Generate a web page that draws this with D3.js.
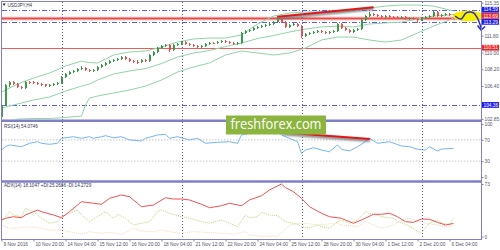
<!DOCTYPE html>
<html lang="en">
<head>
<meta charset="utf-8">
<script src="https://d3js.org/d3.v7.min.js"></script>
<style>
  body { margin: 0; background: #ffffff; }
  svg { display: block; font-family: "Liberation Sans", Arial, sans-serif; }
  .axis path { display: none; }
  .axis line { stroke: #8080c8; }
  .axis text { fill: #555566; font-size: 4.8px; }
</style>
</head>
<body>
<script>
// ---- chart data ----
var symbolLabel = "USDJPY,H4";
var rsiLabel = "RSI(14) 54.0746";
var adxLabel = "ADX(14) 18.1047 +DI:25.2686 -DI:14.2729";

var timeLabels = ["9 Nov 2016", "10 Nov 20:00", "14 Nov 04:00", "15 Nov 12:00", "16 Nov 20:00",
  "18 Nov 04:00", "21 Nov 12:00", "22 Nov 20:00", "24 Nov 04:00", "25 Nov 12:00",
  "28 Nov 20:00", "30 Nov 04:00", "1 Dec 12:00", "2 Dec 20:00", "6 Dec 04:00"];
var labelStep = 8;             // one time label every 8 H4 bars
var weekStartBars = [15, 45, 75, 105];

var priceTicks = [115.35, 111.80, 110.00, 108.20, 106.40, 102.85];
var levelValues = [114.59, 113.69, 113.29, 110.51, 104.36];
var levelKinds  = ["blue", "red", "blue", "red", "blue"];
var rsiTicks = [100, 70, 30, 0];
var rsiLevels = [70, 30];
var adxTicks = [73, 0];

// candles: [open, high, low, close]
var candles = [
  [103.10,104.50,102.95,104.35],[104.35,106.60,104.20,106.50],[106.50,106.95,106.30,106.82],[106.82,106.95,106.50,106.61],
  [106.61,106.75,106.15,106.28],[106.28,106.40,106.05,106.18],[106.18,106.95,106.10,106.82],[106.82,106.98,106.65,106.80],
  [106.80,106.90,106.60,106.71],[106.71,106.85,106.50,106.61],[106.61,106.75,106.45,106.58],[106.58,106.65,106.25,106.39],
  [106.39,106.60,106.25,106.50],[106.50,106.72,106.40,106.61],[106.61,106.80,106.50,106.71],[106.71,107.50,106.65,107.36],
  [107.36,107.80,107.25,107.68],[107.68,108.00,107.55,107.90],[107.90,108.15,107.80,108.01],[108.01,108.35,107.90,108.22],
  [108.22,108.50,108.10,108.33],[108.33,108.45,108.00,108.11],[108.11,108.20,107.85,108.01],[108.01,108.25,107.90,108.11],
  [108.11,108.55,108.00,108.44],[108.44,108.75,108.35,108.65],[108.65,108.98,108.55,108.87],[108.87,109.20,108.75,109.08],
  [109.08,109.30,108.95,109.19],[109.19,109.45,109.05,109.30],[109.30,109.65,109.20,109.51],[109.51,109.60,109.20,109.30],
  [109.30,109.40,108.95,109.08],[109.08,109.20,108.85,108.97],[108.97,109.15,108.80,108.95],[108.95,109.30,108.85,109.19],
  [109.19,109.25,108.95,109.08],[109.08,109.85,109.00,109.73],[109.73,110.15,109.60,110.05],[110.05,110.60,109.95,110.48],
  [110.48,110.85,110.35,110.69],[110.69,110.95,110.55,110.80],[110.80,110.90,110.10,110.26],[110.26,110.90,110.15,110.80],
  [110.80,111.05,110.65,110.91],[110.91,111.25,110.80,111.12],[111.12,111.20,110.80,110.91],[110.91,111.00,110.65,110.80],
  [110.80,110.90,110.55,110.69],[110.69,110.80,110.45,110.59],[110.59,110.80,110.50,110.69],[110.69,111.05,110.60,110.91],
  [110.91,111.15,110.80,111.02],[111.02,111.12,110.88,111.00],[111.00,111.25,110.90,111.12],[111.12,111.35,111.00,111.23],
  [111.23,111.30,111.00,111.12],[111.12,111.20,110.90,111.02],[111.02,111.10,110.80,110.91],[110.91,111.15,110.85,111.02],
  [111.02,112.20,110.95,112.09],[112.09,112.45,111.95,112.31],[112.31,112.55,112.20,112.41],[112.41,112.75,112.30,112.63],
  [112.63,112.85,112.50,112.74],[112.74,112.98,112.60,112.84],[112.84,113.10,112.70,112.95],[112.95,113.20,112.85,113.06],
  [113.06,113.40,112.95,113.27],[113.27,113.90,113.15,113.60],[113.60,113.75,113.15,113.27],[113.27,113.35,112.60,112.74],
  [112.74,113.10,112.65,112.95],[112.95,113.20,112.85,113.06],[113.06,113.15,112.70,112.84],[112.84,112.95,111.60,111.77],
  [111.77,112.10,111.65,111.98],[111.98,112.20,111.85,112.09],[112.09,112.35,111.95,112.20],[112.20,112.45,112.10,112.31],
  [112.31,112.40,112.05,112.20],[112.20,112.30,111.95,112.09],[112.09,112.35,111.95,112.20],[112.20,112.45,112.10,112.31],
  [112.31,113.20,112.25,113.06],[113.06,113.15,112.50,112.63],[112.63,112.75,112.30,112.41],[112.41,112.50,112.05,112.20],
  [112.20,112.55,112.10,112.41],[112.41,112.65,112.30,112.52],[112.52,113.60,112.45,113.49],[113.49,114.05,113.40,113.92],
  [113.92,114.35,113.80,114.13],[114.13,114.25,113.90,114.03],[114.03,114.15,113.80,113.92],[113.92,114.05,113.70,113.81],
  [113.81,114.05,113.70,113.92],[113.92,114.00,113.70,113.81],[113.81,113.95,113.65,113.80],[113.80,113.90,113.55,113.70],
  [113.70,113.95,113.60,113.81],[113.81,113.90,113.45,113.60],[113.60,113.85,113.50,113.70],[113.70,113.80,113.45,113.60],
  [113.60,113.70,113.20,113.49],[113.49,113.85,113.35,113.70],[113.70,113.95,113.60,113.81],[113.81,114.05,113.70,113.92],
  [113.92,114.55,113.85,114.35],[114.35,114.45,113.80,113.92],[113.92,114.15,113.85,114.03],[114.03,114.25,113.90,114.13],
  [114.13,114.20,113.90,114.03],[114.03,114.15,113.95,114.05]
];

// Bollinger bands, read at these bars
var bbBars   = [0,4,8,12,16,20,21,22,24,28,32,36,40,44,48,52,56,60,64,68,72,76,80,84,88,92,96,100,104,108,112,113];
var bbUpper  = [105.75,106.61,107.25,107.79,108.54,109.08,108.97,108.92,108.87,109.73,110.05,110.16,110.59,111.12,111.45,111.55,
                111.55,111.88,113.06,113.92,114.24,114.35,114.35,114.35,114.46,114.78,114.99,115.10,115.10,114.99,114.56,114.46];
var bbMiddle = [104.03,104.46,104.89,105.21,105.85,106.39,106.50,106.61,107.04,107.68,108.01,108.27,108.81,109.51,109.94,110.21,
                110.64,111.02,111.50,111.82,112.20,112.52,112.74,112.84,112.74,113.06,113.17,113.27,113.60,113.92,114.03,114.08];
var bbLower  = [102.20,102.84,102.90,102.90,103.01,103.17,104.35,105.10,105.32,105.64,105.96,106.39,107.04,107.90,108.44,108.87,
                109.73,110.16,109.94,109.73,109.94,110.48,111.34,111.66,111.66,111.34,111.12,111.34,112.09,112.84,113.49,113.70];

// RSI(14)
var rsiBars = [0,1,2,5,7,9,10,12,14,15,18,20,22,23,25,26,28,30,32,35,36,39,41,42,44,47,49,51,54,57,
               59,60,62,64,66,69,70,73,74,75,76,78,80,82,84,85,87,89,91,92,94,97,100,102,104,106,107,109,110,113];
var rsiValues = [50.9,57.2,60.4,57.2,63.6,66.6,63.6,61.7,63.6,73.0,76.0,73.0,76.0,73.0,76.0,78.0,74.0,76.0,70.0,68.0,
                 73.0,79.2,80.6,73.0,76.0,70.0,73.0,63.6,65.5,66.6,63.6,79.2,82.5,82.5,84.0,85.0,79.2,69.8,66.6,44.7,
                 50.9,55.3,50.9,47.7,60.4,52.3,49.1,57.2,66.6,73.0,63.6,66.6,58.5,57.2,52.3,50.9,57.2,49.1,52.8,54.07];

// ADX(14), +DI, -DI
var adxBars = [0,1,3,5,6,9,10,13,15,17,20,23,25,27,30,32,34,35,38,41,43,45,47,50,52,55,57,60,62,65,67,70,71,73,75,77,80,82,85,86,
               88,90,93,95,97,99,101,103,105,107,109,111,113];
var adxValues = [22.9,25.3,27.5,26.1,29.9,36.8,34.5,29.9,26.1,34.5,48.4,46.2,44.8,53.1,57.7,55.3,46.2,41.4,43.8,53.9,
                 52.1,52.1,50.8,44.8,40.0,42.8,46.2,42.8,50.8,56.7,64.7,73.0,67.9,62.3,53.1,41.4,32.3,27.5,25.3,22.9,
                 18.4,22.9,30.9,30.9,32.3,27.5,20.6,19.7,24.3,23.9,19.7,16.0,18.1];
var plusDiBars = [0,2,3,5,6,8,10,12,14,15,17,19,20,22,24,26,28,29,31,33,35,37,39,40,42,45,47,50,52,55,57,59,61,62,64,65,67,69,71,74,
                  75,77,79,80,82,84,85,87,89,91,92,94,95,98,99,101,103,104,105,107,109,110,112,113];
var plusDiValues = [20.6,34.5,29.9,27.5,39.2,34.5,25.3,18.4,20.6,27.5,32.3,36.8,29.9,20.6,27.5,34.5,25.3,30.9,25.3,16.0,
                    18.4,20.6,34.5,36.8,32.3,27.5,25.3,20.6,18.4,22.9,18.4,13.6,29.9,26.1,27.5,33.6,29.9,28.9,20.6,17.0,
                    13.6,12.2,16.0,13.6,11.4,20.6,22.9,18.4,22.9,34.5,32.3,29.9,27.5,25.3,20.6,17.0,11.4,6.7,5.8,18.4,
                    22.9,18.4,17.0,25.27];
var minusDiBars = [0,2,5,7,10,12,15,17,20,22,25,27,30,33,35,38,40,43,45,48,51,55,58,61,62,65,69,70,72,75,
                   76,79,81,84,85,89,91,93,95,98,99,102,105,106,108,110,113];
var minusDiValues = [16.0,11.4,12.2,13.6,11.4,9.0,9.0,6.7,3.1,6.7,4.4,5.8,3.1,11.4,7.6,6.7,9.0,5.8,4.4,6.7,
                     5.8,4.4,3.1,6.7,2.1,0.3,0.3,4.4,16.0,18.4,18.4,16.0,17.0,18.4,16.0,13.6,20.6,16.0,11.4,16.0,
                     20.6,25.3,20.6,18.4,17.0,14.6,14.27];

// hand drawn objects: trend lines [bar, value] and the forecast
var priceTrend = [[69, 113.85], [93, 114.85]];
var rsiTrend = [[70.4, 84.0], [92.1, 71.7]];
var forecastZone = [112.8, 120.5, 113.35, 114.50];   // bar from, bar to, low, high
var forecastWave = [[113.4,113.92],[114.9,113.60],[116.1,114.24],[117.1,114.35],[118.1,114.24],[119.1,113.60],[119.9,112.63]];
var forecastHead = [[119.0,112.90],[119.9,112.41],[120.9,112.79]];
var watermark = "freshforex.com";

// ---- drawing ----
var W = 500, H = 250;
var frameColor = "#8080c8";
var svg = d3.select("body").append("svg").attr("width", W).attr("height", H);
svg.append("rect").attr("width", W).attr("height", H).attr("fill", "#ffffff");

var x = d3.scaleLinear().domain([0, 119.875]).range([1.5, 481]);
var yMain = d3.scaleLinear().domain([102.85, 115.35]).range([119, 2.7]);
var yRsi = d3.scaleLinear().domain([0, 100]).range([177, 124]);
var yAdx = d3.scaleLinear().domain([0, 73]).range([236.5, 184]);

var defs = svg.append("defs");
function clip(id, y0, y1) {
  defs.append("clipPath").attr("id", id).append("rect")
    .attr("x", 2).attr("y", y0).attr("width", 479).attr("height", y1 - y0);
}
clip("cMain", 2, 119.5);
clip("cRsi", 122, 180.2);
clip("cAdx", 183, 238.5);
defs.append("filter").attr("id", "shadow").attr("x", "-20%").attr("y", "-200%").attr("width", "140%").attr("height", "500%")
  .append("feGaussianBlur").attr("stdDeviation", 1.2);

var main = svg.append("g").attr("clip-path", "url(#cMain)");
var rsiG = svg.append("g").attr("clip-path", "url(#cRsi)");
var adxG = svg.append("g").attr("clip-path", "url(#cAdx)");

// week separators
svg.append("g").selectAll("line").data(weekStartBars).enter().append("line")
  .attr("x1", function(d) { return Math.round(x(d)) + 0.5; })
  .attr("x2", function(d) { return Math.round(x(d)) + 0.5; })
  .attr("y1", 2).attr("y2", 239)
  .attr("stroke", "#5a5ab8").attr("stroke-dasharray", "1,2");

// horizontal levels
levelValues.forEach(function(v, k) {
  var y = Math.round(yMain(v)) + 0.5;
  if (levelKinds[k] === "blue") {
    main.append("line").attr("x1", 2).attr("x2", 481).attr("y1", y).attr("y2", y)
      .attr("stroke", "#5c5cf0").attr("stroke-dasharray", "5,2,1,2");
  } else if (v > 113) {
    main.append("line").attr("x1", 2).attr("x2", 481).attr("y1", y).attr("y2", y)
      .attr("stroke", "#f7b0b0").attr("stroke-width", 3.5);
    main.append("line").attr("x1", 2).attr("x2", 481).attr("y1", y).attr("y2", y)
      .attr("stroke", "#ee4848").attr("stroke-width", 1.5);
  } else {
    main.append("line").attr("x1", 2).attr("x2", 481).attr("y1", y).attr("y2", y)
      .attr("stroke", "#f05a5a");
  }
});

// Bollinger bands
function bandLine(vals) {
  return d3.line().x(function(d, i) { return x(bbBars[i]); }).y(function(d) { return yMain(d); })(vals);
}
[bbUpper, bbMiddle, bbLower].forEach(function(b) {
  main.append("path").attr("d", bandLine(b)).attr("fill", "none")
    .attr("stroke", "#8fd4a6").attr("stroke-width", 1);
});

// candles
var cg = main.append("g").attr("shape-rendering", "crispEdges");
candles.forEach(function(c, i) {
  var o = c[0], h = c[1], l = c[2], cl = c[3];
  var col = cl > o ? "#3c9b4a" : (cl < o ? "#ec5050" : "#333333");
  var cx = x(i);
  cg.append("line").attr("x1", cx).attr("x2", cx).attr("y1", yMain(h)).attr("y2", yMain(l)).attr("stroke", col);
  var top = yMain(Math.max(o, cl)), bot = yMain(Math.min(o, cl));
  cg.append("rect").attr("x", cx - 1).attr("y", top).attr("width", 2)
    .attr("height", Math.max(1, bot - top)).attr("fill", col);
});

// trend line on price
function drawTrend(g, pts, ys) {
  var ln = d3.line().x(function(d) { return x(d[0]); }).y(function(d) { return ys(d[1]); });
  g.append("path").attr("d", ln(pts)).attr("transform", "translate(0,1.5)")
    .attr("stroke", "#777777").attr("stroke-width", 2.5).attr("fill", "none").attr("filter", "url(#shadow)");
  g.append("path").attr("d", ln(pts)).attr("stroke", "#e01818").attr("stroke-width", 2).attr("fill", "none");
}
drawTrend(main, priceTrend, yMain);

// forecast drawing in the chart shift area
var fz = svg.append("g").attr("clip-path", "url(#cMain)");
fz.append("ellipse")
  .attr("cx", (x(forecastZone[0]) + x(forecastZone[1])) / 2)
  .attr("cy", (yMain(forecastZone[2]) + yMain(forecastZone[3])) / 2)
  .attr("rx", (x(forecastZone[1]) - x(forecastZone[0])) / 2)
  .attr("ry", (yMain(forecastZone[2]) - yMain(forecastZone[3])) / 2)
  .attr("fill", "#f4f000");
var fl = d3.line().curve(d3.curveCatmullRom).x(function(d) { return x(d[0]); }).y(function(d) { return yMain(d[1]); });
svg.append("path").attr("d", fl(forecastWave)).attr("fill", "none").attr("stroke", "#2b2bc4").attr("stroke-width", 1.5);
svg.append("path").attr("d", d3.line().x(function(d) { return x(d[0]); }).y(function(d) { return yMain(d[1]); })(forecastHead))
  .attr("fill", "none").attr("stroke", "#2b2bc4").attr("stroke-width", 1.5);

// RSI panel
rsiLevels.forEach(function(v) {
  rsiG.append("line").attr("x1", 2).attr("x2", 481).attr("y1", yRsi(v)).attr("y2", yRsi(v))
    .attr("stroke", "#c8c8c8").attr("stroke-dasharray", "1.5,1.5");
});
rsiG.append("path")
  .attr("d", d3.line().x(function(d, i) { return x(rsiBars[i]); }).y(function(d) { return yRsi(d); })(rsiValues))
  .attr("fill", "none").attr("stroke", "#74b4f4").attr("stroke-width", 1);
drawTrend(rsiG, rsiTrend, yRsi);

// ADX panel
function adxPath(bars, vals, color, dash) {
  var p = adxG.append("path")
    .attr("d", d3.line().x(function(d, i) { return x(bars[i]); }).y(function(d) { return yAdx(d); })(vals))
    .attr("fill", "none").attr("stroke", color).attr("stroke-width", 1);
  if (dash) p.attr("stroke-dasharray", dash);
}
adxPath(minusDiBars, minusDiValues, "#f6d6b4", "1,1");
adxPath(plusDiBars, plusDiValues, "#b4d878", "1,1");
adxPath(adxBars, adxValues, "#f25050", null);

// frame
var frame = svg.append("g").attr("stroke", frameColor).attr("fill", "none");
frame.append("line").attr("x1", 1.5).attr("x2", 1.5).attr("y1", 1).attr("y2", 239.5);
frame.append("line").attr("x1", 481.5).attr("x2", 481.5).attr("y1", 1).attr("y2", 239.5);
frame.append("line").attr("x1", 1).attr("x2", 482).attr("y1", 1.5).attr("y2", 1.5);
frame.append("line").attr("x1", 1).attr("x2", 482).attr("y1", 239.5).attr("y2", 239.5);
frame.append("line").attr("x1", 1).attr("x2", 482).attr("y1", 120.8).attr("y2", 120.8).attr("stroke-width", 2.5);
frame.append("line").attr("x1", 1).attr("x2", 482).attr("y1", 181.6).attr("y2", 181.6).attr("stroke-width", 2.5);

// right axes
function rightAxis(scale, ticks, fmt) {
  var g = svg.append("g").attr("class", "axis").attr("transform", "translate(481.5,0)")
    .call(d3.axisRight(scale).tickValues(ticks).tickSize(2).tickPadding(1).tickFormat(fmt));
  g.attr("font-size", null).attr("font-family", null);
}
rightAxis(yMain, priceTicks, d3.format(".2f"));
rightAxis(yRsi, rsiTicks, d3.format("d"));
rightAxis(yAdx, adxTicks, d3.format("d"));

// boxed level labels, pushed apart when they collide
var order = levelValues.map(function(v, k) { return k; })
  .sort(function(a, b) { return levelValues[a] - levelValues[b]; });
var boxY = {};
var prevY = null;
order.forEach(function(k) {
  var y = yMain(levelValues[k]);
  if (prevY !== null && prevY - y < 6) y = prevY - 6;
  boxY[k] = y; prevY = y;
});
levelValues.forEach(function(v, k) {
  var fill = levelKinds[k] === "blue" ? "#1c1cf0" : "#f02828";
  svg.append("rect").attr("x", 482).attr("y", boxY[k] - 2.9).attr("width", 17).attr("height", 5.8).attr("fill", fill);
  svg.append("text").attr("x", 483.5).attr("y", boxY[k]).attr("dy", "0.35em")
    .attr("font-size", 4.8).attr("fill", "#ffffff").text(d3.format(".2f")(v));
});

// time axis
var tAxis = svg.append("g").attr("class", "axis").attr("transform", "translate(0,239.5)")
  .call(d3.axisBottom(x).tickValues(timeLabels.map(function(d, i) { return i * labelStep; }))
    .tickSize(2).tickPadding(1).tickFormat(function(d, i) { return timeLabels[i]; }));
tAxis.attr("font-size", null).attr("font-family", null);
tAxis.selectAll("text").attr("text-anchor", "start").attr("dx", "0.3em");

// panel captions
svg.append("path").attr("d", "M2.5,3.6 L5.8,3.6 L4.15,6 Z").attr("fill", "#333333");
svg.append("text").attr("x", 7.5).attr("y", 6.9).attr("font-size", 4.6).attr("fill", "#333344").text(symbolLabel);
svg.append("text").attr("x", 4).attr("y", 128.4).attr("font-size", 4.6).attr("fill", "#333355").text(rsiLabel);
svg.append("text").attr("x", 4).attr("y", 187.4).attr("font-size", 4.6).attr("fill", "#333355").text(adxLabel);

// watermark
svg.append("rect").attr("x", 226).attr("y", 115.5).attr("width", 100).attr("height", 19).attr("fill", "#8cb53f");
svg.append("text").attr("x", 276).attr("y", 129.4).attr("text-anchor", "middle")
  .attr("font-family", "'Open Sans', sans-serif").attr("font-size", 14).attr("fill", "#ffffff")
  .attr("textLength", 91).attr("lengthAdjust", "spacingAndGlyphs").text(watermark);
</script>
</body>
</html>
